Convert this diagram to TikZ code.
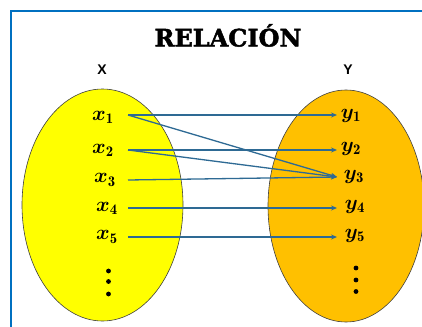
\documentclass[tikz,border=0pt]{standalone}
\usepackage{amsmath,bm}
\usepackage{fontspec}
\newfontfamily\titlefont{DejaVu Serif}[BoldFeatures={FakeBold=1.8}]
\newfontfamily\labfont{Liberation Sans}
\usetikzlibrary{arrows.meta}
\definecolor{frameblue}{HTML}{0070C0}
\definecolor{arrowblue}{HTML}{2E6A94}
\definecolor{setyellow}{HTML}{FFFF00}
\definecolor{setorange}{HTML}{FFC000}
\tikzset{
  setshape/.style={draw=black!75, line width=0.6pt},
  elem/.style={inner sep=0pt, font=\fontsize{21}{22}\selectfont},
  rel/.style={draw=arrowblue, line width=1.3pt, -{Stealth[length=6pt,width=5pt]}},
  dotpt/.style={circle, fill=black, inner sep=0pt, minimum size=4.8pt},
  setlabel/.style={font=\labfont\bfseries\fontsize{14}{15}\selectfont, inner sep=0pt},
}
\begin{document}
\begin{tikzpicture}[x=1pt,y=-1pt]
\useasboundingbox (0,0) rectangle (422,326);
\fill[white] (0,0) rectangle (422,326);
\draw[frameblue, line width=2.5pt] (11,330) -- (11,11) -- (425,11);
\node[font=\titlefont\bfseries\fontsize{24}{25}\selectfont, inner sep=0pt] (title) at (228,35.5) {RELACIÓN};
\node[setlabel] (lx) at (102,69.5) {X};
\node[setlabel] (ly) at (348,69.5) {Y};
\fill[setyellow] (102.5,205) ellipse [x radius=80.5, y radius=116];
\draw[setshape] (102.5,205) ellipse [x radius=80.5, y radius=116];
\fill[setorange] (346,206) ellipse [x radius=78, y radius=116];
\draw[setshape] (346,206) ellipse [x radius=78, y radius=116];
% elements of X
\node[elem] (x1) at (103,117) {$\bm{x}_{\mathbf{1}}$};
\node[elem] (x2) at (103,150) {$\bm{x}_{\mathbf{2}}$};
\node[elem] (x3) at (105,180) {$\bm{x}_{\mathbf{3}}$};
\node[elem] (x4) at (107,208) {$\bm{x}_{\mathbf{4}}$};
\node[elem] (x5) at (107,237) {$\bm{x}_{\mathbf{5}}$};
\node[dotpt] (xd1) at (108.5,271) {};
\node[dotpt] (xd2) at (108.5,281.5) {};
\node[dotpt] (xd3) at (108.5,294) {};
% elements of Y
\node[elem] (y1) at (351,116) {$\bm{y}_{\mathbf{1}}$};
\node[elem] (y2) at (351,149) {$\bm{y}_{\mathbf{2}}$};
\node[elem] (y3) at (354,177) {$\bm{y}_{\mathbf{3}}$};
\node[elem] (y4) at (355,207) {$\bm{y}_{\mathbf{4}}$};
\node[elem] (y5) at (355,236) {$\bm{y}_{\mathbf{5}}$};
\node[dotpt] (yd1) at (356,268) {};
\node[dotpt] (yd2) at (356,280) {};
\node[dotpt] (yd3) at (356,291.5) {};
% connector anchors
\coordinate (s1) at (128,115);
\coordinate (s2) at (128,150);
\coordinate (s3) at (128,180);
\coordinate (s4) at (128,208);
\coordinate (s5) at (128,237);
\coordinate (e1) at (337,115);
\coordinate (e2) at (337,150);
\coordinate (e3) at (337,177);
\coordinate (e4) at (337,208);
\coordinate (e5) at (337,237);
\draw[rel] (s1) -- (e1);
\draw[rel] (s1) -- (e3);
\draw[rel] (s2) -- (e2);
\draw[rel] (s2) -- (e3);
\draw[rel] (s3) -- (e3);
\draw[rel] (s4) -- (e4);
\draw[rel] (s5) -- (e5);
\end{tikzpicture}
\end{document}
